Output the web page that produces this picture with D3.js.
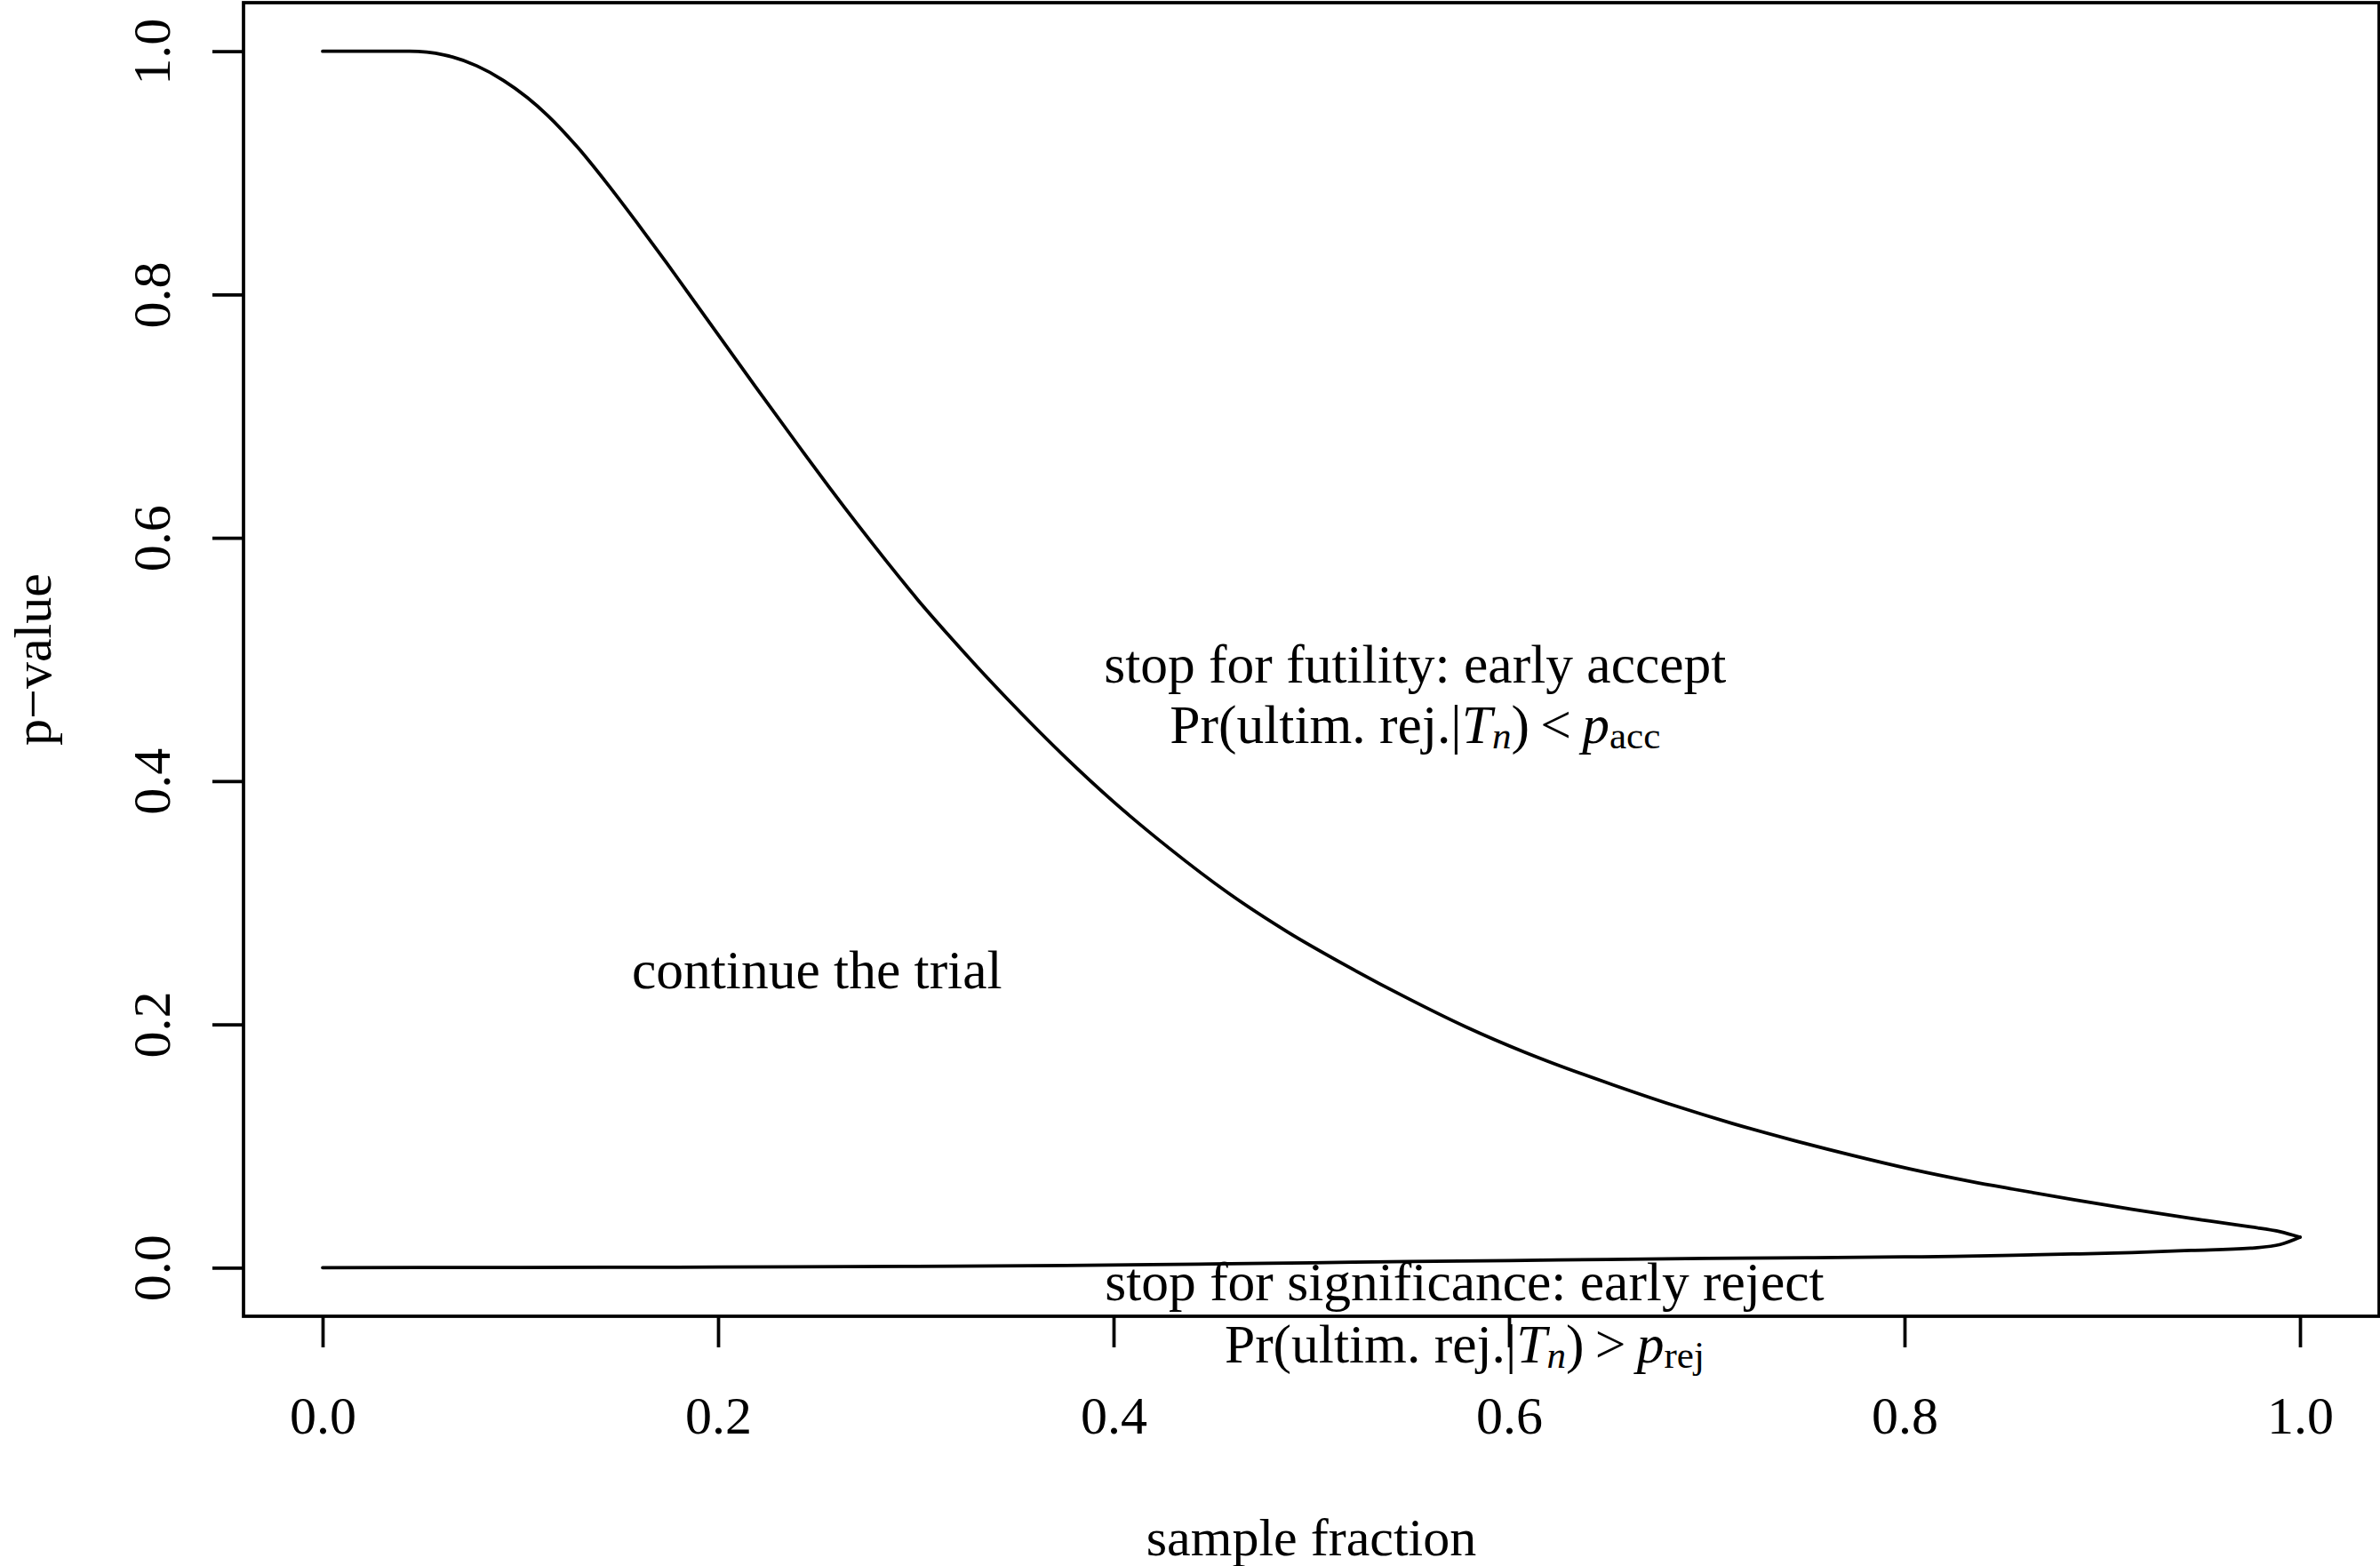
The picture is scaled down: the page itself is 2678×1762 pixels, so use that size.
<!DOCTYPE html>
<html>
<head>
<meta charset="utf-8">
<script src="https://cdn.jsdelivr.net/npm/d3@7"></script>
<style>
  html, body { margin: 0; padding: 0; background: #ffffff; }
  svg { display: block; }
  text { font-family: "Liberation Serif", "Times New Roman", Times, serif; fill: #000; }
</style>
</head>
<body>
<script>
// ---- data ----
const upperX = [0, 0.02, 0.044, 0.0615, 0.078, 0.0915, 0.1035, 0.114, 0.129, 0.144, 0.159, 0.174, 0.189, 0.204, 0.219, 0.241, 0.256, 0.271, 0.286, 0.301, 0.316, 0.331, 0.346, 0.361, 0.376, 0.400, 0.428, 0.458, 0.488, 0.518, 0.548, 0.578, 0.608, 0.623, 0.653, 0.683, 0.713, 0.743, 0.773, 0.803, 0.833, 0.855, 0.885, 0.915, 0.945, 0.975, 0.990, 1.0];
const upperY = [1.0, 1.0, 1.0, 0.997, 0.988, 0.976, 0.962, 0.947, 0.921, 0.891, 0.859, 0.826, 0.792, 0.758, 0.724, 0.675, 0.642, 0.610, 0.579, 0.549, 0.521, 0.494, 0.468, 0.443, 0.419, 0.383, 0.345, 0.308, 0.276, 0.248, 0.222, 0.198, 0.177, 0.1675, 0.150, 0.1335, 0.1185, 0.105, 0.0925, 0.081, 0.0710, 0.0645, 0.056, 0.048, 0.0405, 0.0335, 0.0295, 0.025];
const lowerX = [0, 0.1, 0.2, 0.3, 0.376, 0.45, 0.5, 0.55, 0.6, 0.65, 0.7, 0.735, 0.8, 0.825, 0.855, 0.885, 0.915, 0.945, 0.975, 0.99, 1.0];
const lowerY = [0, 0.0001, 0.0004, 0.0010, 0.0018, 0.003, 0.004, 0.005, 0.0058, 0.0067, 0.0075, 0.008, 0.0088, 0.0093, 0.0102, 0.0112, 0.0124, 0.0141, 0.016, 0.019, 0.025];
const xTicks = [0, 0.2, 0.4, 0.6, 0.8, 1.0];
const yTicks = [0, 0.2, 0.4, 0.6, 0.8, 1.0];
const xTickLabels = ["0.0", "0.2", "0.4", "0.6", "0.8", "1.0"];
const yTickLabels = ["0.0", "0.2", "0.4", "0.6", "0.8", "1.0"];
const xTitle = "sample fraction";
const yTitle = "p\u2212value";

// ---- layout ----
const W = 2678, H = 1762;
const FS = 60, FSA = 61.5, LW = 3.75;
const box = { left: 274, right: 2677, top: 3, bottom: 1481 };

const svg = d3.select("body").append("svg").attr("width", W).attr("height", H);
svg.append("rect").attr("width", W).attr("height", H).attr("fill", "#fff");

const x = d3.scaleLinear().domain([-0.04, 1.04]).range([box.left, box.right]);
const y = d3.scaleLinear().domain([-0.04, 1.04]).range([box.bottom, box.top]);

// curves
const line = d3.line().x(d => x(d[0])).y(d => y(d[1])).curve(d3.curveMonotoneX);
const upper = upperX.map((v, i) => [v, upperY[i]]);
const lower = lowerX.map((v, i) => [v, lowerY[i]]);
[upper, lower].forEach(pts => {
  svg.append("path").attr("d", line(pts)).attr("fill", "none")
    .attr("stroke", "#000").attr("stroke-width", LW)
    .attr("stroke-linejoin", "round").attr("stroke-linecap", "round");
});

// box
svg.append("rect").attr("x", box.left).attr("y", box.top)
  .attr("width", box.right - box.left).attr("height", box.bottom - box.top)
  .attr("fill", "none").attr("stroke", "#000").attr("stroke-width", LW);

// x axis
const gx = svg.append("g").attr("transform", `translate(0,${box.bottom})`)
  .call(d3.axisBottom(x).tickValues(xTicks).tickFormat((d, i) => xTickLabels[i])
    .tickSize(35).tickSizeOuter(0).tickPadding(54));
gx.select(".domain").remove();
gx.selectAll(".tick line").attr("stroke", "#000").attr("stroke-width", LW);
gx.selectAll(".tick text").attr("font-size", FS).attr("fill", "#000")
  .style("font-family", '"Liberation Serif", "Times New Roman", serif');

// y axis
const gy = svg.append("g").attr("transform", `translate(${box.left},0)`)
  .call(d3.axisLeft(y).tickValues(yTicks).tickFormat((d, i) => yTickLabels[i])
    .tickSize(35).tickSizeOuter(0));
gy.select(".domain").remove();
gy.selectAll(".tick line").attr("stroke", "#000").attr("stroke-width", LW);
gy.selectAll(".tick text").attr("x", null).attr("dy", null)
  .attr("text-anchor", "middle").attr("transform", "translate(-83,0) rotate(-90)")
  .attr("font-size", FS).attr("fill", "#000")
  .style("font-family", '"Liberation Serif", "Times New Roman", serif');

// axis titles
svg.append("text").attr("x", (box.left + box.right) / 2).attr("y", 1750)
  .attr("text-anchor", "middle").attr("font-size", FS).text(xTitle);
svg.append("text").attr("transform", `translate(57,${(box.top + box.bottom) / 2}) rotate(-90)`)
  .attr("text-anchor", "middle").attr("font-size", FS).text(yTitle);

// annotations
function plain(xv, yv, str) {
  svg.append("text").attr("x", x(xv)).attr("y", y(yv)).attr("text-anchor", "middle")
    .attr("font-size", FSA).text(str);
}
function mathLine(xv, yv, rel, sub) {
  const t = svg.append("text").attr("x", x(xv)).attr("y", y(yv))
    .attr("text-anchor", "middle").attr("font-size", FSA);
  t.append("tspan").text("Pr(ultim. rej.|");
  t.append("tspan").attr("font-style", "italic").text("T");
  t.append("tspan").attr("font-style", "italic").attr("font-size", FSA * 0.7).attr("dy", 6).text("n");
  t.append("tspan").attr("dy", -6).text(")\u2009" + rel + "\u2009");
  t.append("tspan").attr("font-style", "italic").text("p");
  t.append("tspan").attr("font-size", FSA * 0.7).attr("dy", 6).text(sub);
}
plain(0.5525, 0.481, "stop for futility: early accept");
mathLine(0.5525, 0.431, "<", "acc");
plain(0.25, 0.230, "continue the trial");
plain(0.5775, -0.027, "stop for significance: early reject");
mathLine(0.5775, -0.078, ">", "rej");
</script>
</body>
</html>
